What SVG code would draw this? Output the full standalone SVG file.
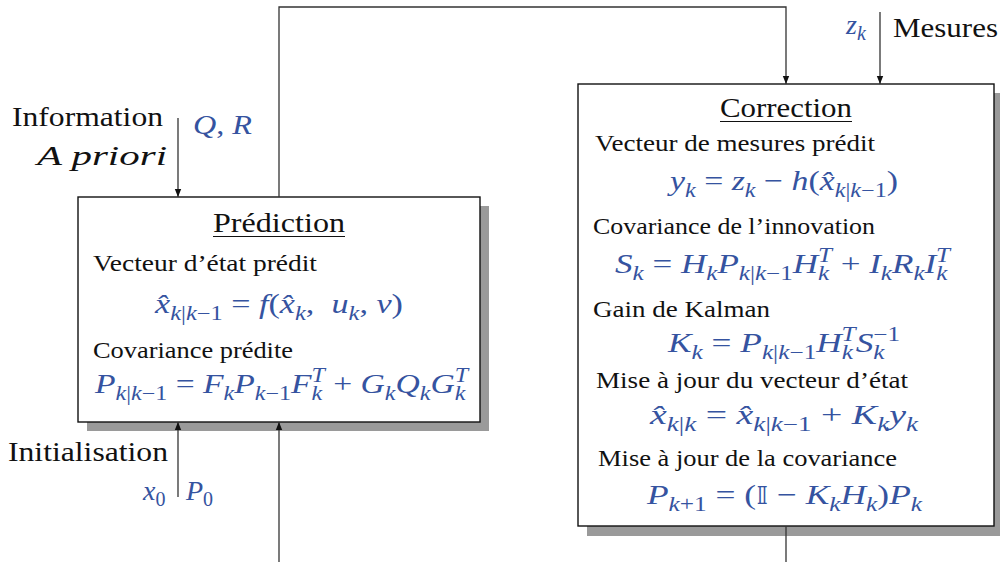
<svg xmlns="http://www.w3.org/2000/svg" width="1000" height="562" viewBox="0 0 1000 562">
<style>
.lbl{font-family:"Liberation Serif","DejaVu Serif",serif;font-size:28px;fill:#111}
.it{font-style:italic}
.in{font-family:"Liberation Serif","DejaVu Serif",serif;font-size:24px;fill:#111}
.ttl{font-family:"Liberation Serif","DejaVu Serif",serif;font-size:28px;fill:#111}
.m{font-family:"Liberation Serif","DejaVu Serif",serif;font-style:italic;font-size:28px;fill:#3553a0;white-space:pre}
.r{font-style:normal}
.b{font-size:20px}
.box{fill:#fff;stroke:#111;stroke-width:1.4}
.sh{fill:#9a9a9a}
.ln{fill:none;stroke:#333;stroke-width:1.3}
.ul{stroke:#111;stroke-width:1.2}
</style>
<defs>
<marker id="ah" viewBox="0 0 8 8" refX="8" refY="4" markerWidth="8" markerHeight="8" markerUnits="userSpaceOnUse" orient="auto">
<path d="M0,0.8 L8,4 L0,7.2 Z" fill="#111"/>
</marker>
</defs>

<g id="info">
<text class="lbl" x="12" y="126" textLength="151" lengthAdjust="spacingAndGlyphs">Information</text>
<text class="lbl it" x="37" y="165" textLength="130" lengthAdjust="spacingAndGlyphs">A priori</text>
<text class="m" x="193" y="134" textLength="59" lengthAdjust="spacingAndGlyphs">Q<tspan class="r">, </tspan>R</text>
</g>

<g id="init">
<text class="lbl" x="8" y="461" textLength="160" lengthAdjust="spacingAndGlyphs">Initialisation</text>
<text class="m" x="143" y="500">x<tspan class="b r" dy="6">0</tspan></text>
<text class="m" x="186" y="500">P<tspan class="b r" dy="6">0</tspan></text>
</g>

<g id="mesures">
<text class="m" x="846" y="34">z<tspan class="b" dy="6">k</tspan></text>
<text class="lbl" x="893" y="37" textLength="105" lengthAdjust="spacingAndGlyphs">Mesures</text>
</g>

<g id="prediction">
<rect class="sh" x="87" y="206" width="402" height="225"/>
<rect class="box" x="78" y="197" width="402" height="225"/>
<text class="ttl" x="213" y="232" textLength="132" lengthAdjust="spacingAndGlyphs">Prédiction</text>
<line class="ul" x1="213" y1="236.5" x2="345" y2="236.5"/>
<text class="in" x="93" y="271" textLength="224" lengthAdjust="spacingAndGlyphs">Vecteur d’état prédit</text>
<text class="m" x="155" y="313" textLength="248" lengthAdjust="spacingAndGlyphs">x̂<tspan class="b" dy="7">k<tspan class="r">|</tspan>k<tspan class="r">−1</tspan></tspan><tspan class="r" dy="-7"> = </tspan>f<tspan class="r">(</tspan>x̂<tspan class="b" dy="7">k</tspan><tspan class="r" dy="-7">,  </tspan>u<tspan class="b" dy="7">k</tspan><tspan class="r" dy="-7">, </tspan>v<tspan class="r">)</tspan></text>
<text class="in" x="93" y="358" textLength="200" lengthAdjust="spacingAndGlyphs">Covariance prédite</text>
<text class="m" x="95" y="393" textLength="373" lengthAdjust="spacingAndGlyphs">P<tspan class="b" dy="7">k<tspan class="r">|</tspan>k<tspan class="r">−1</tspan></tspan><tspan class="r" dy="-7"> = </tspan>F<tspan class="b" dy="7">k</tspan><tspan dy="-7">P</tspan><tspan class="b" dy="7">k<tspan class="r">−1</tspan></tspan><tspan dy="-7">F</tspan><tspan class="b" dy="7">k</tspan><tspan class="b" dx="-9" dy="-18">T</tspan><tspan class="r" dy="11"> + </tspan>G<tspan class="b" dy="7">k</tspan><tspan dy="-7">Q</tspan><tspan class="b" dy="7">k</tspan><tspan dy="-7">G</tspan><tspan class="b" dy="7">k</tspan><tspan class="b" dx="-9" dy="-18">T</tspan></text>
</g>

<g id="correction">
<rect class="sh" x="587" y="93" width="413" height="443"/>
<rect class="box" x="578" y="84" width="416" height="442"/>
<text class="ttl" x="720" y="117" textLength="132" lengthAdjust="spacingAndGlyphs">Correction</text>
<line class="ul" x1="720" y1="121.5" x2="852" y2="121.5"/>
<text class="in" x="595" y="151" textLength="280" lengthAdjust="spacingAndGlyphs">Vecteur de mesures prédit</text>
<text class="m" x="670" y="190" textLength="228" lengthAdjust="spacingAndGlyphs">y<tspan class="b" dy="7">k</tspan><tspan class="r" dy="-7"> = </tspan>z<tspan class="b" dy="7">k</tspan><tspan class="r" dy="-7"> − </tspan>h<tspan class="r">(</tspan>x̂<tspan class="b" dy="7">k<tspan class="r">|</tspan>k<tspan class="r">−1</tspan></tspan><tspan class="r" dy="-7">)</tspan></text>
<text class="in" x="593" y="234" textLength="282" lengthAdjust="spacingAndGlyphs">Covariance de l’innovation</text>
<text class="m" x="615" y="273" textLength="335" lengthAdjust="spacingAndGlyphs">S<tspan class="b" dy="7">k</tspan><tspan class="r" dy="-7"> = </tspan>H<tspan class="b" dy="7">k</tspan><tspan dy="-7">P</tspan><tspan class="b" dy="7">k<tspan class="r">|</tspan>k<tspan class="r">−1</tspan></tspan><tspan dy="-7">H</tspan><tspan class="b" dy="7">k</tspan><tspan class="b" dx="-9" dy="-18">T</tspan><tspan class="r" dy="11"> + </tspan>I<tspan class="b" dy="7">k</tspan><tspan dy="-7">R</tspan><tspan class="b" dy="7">k</tspan><tspan dy="-7">I</tspan><tspan class="b" dy="7">k</tspan><tspan class="b" dx="-9" dy="-18">T</tspan></text>
<text class="in" x="593" y="317" textLength="177" lengthAdjust="spacingAndGlyphs">Gain de Kalman</text>
<text class="m" x="668" y="352" textLength="232" lengthAdjust="spacingAndGlyphs">K<tspan class="b" dy="7">k</tspan><tspan class="r" dy="-7"> = </tspan>P<tspan class="b" dy="7">k<tspan class="r">|</tspan>k<tspan class="r">−1</tspan></tspan><tspan dy="-7">H</tspan><tspan class="b" dy="7">k</tspan><tspan class="b" dx="-9" dy="-18">T</tspan><tspan dy="11">S</tspan><tspan class="b" dy="7">k</tspan><tspan class="b r" dx="-9" dy="-18">−1</tspan></text>
<text class="in" x="596" y="388" textLength="312" lengthAdjust="spacingAndGlyphs">Mise à jour du vecteur d’état</text>
<text class="m" x="650" y="424" textLength="268" lengthAdjust="spacingAndGlyphs">x̂<tspan class="b" dy="7">k<tspan class="r">|</tspan>k</tspan><tspan class="r" dy="-7"> = </tspan>x̂<tspan class="b" dy="7">k<tspan class="r">|</tspan>k<tspan class="r">−1</tspan></tspan><tspan class="r" dy="-7"> + </tspan>K<tspan class="b" dy="7">k</tspan><tspan dy="-7">y</tspan><tspan class="b" dy="7">k</tspan></text>
<text class="in" x="598" y="466" textLength="299" lengthAdjust="spacingAndGlyphs">Mise à jour de la covariance</text>
<text class="m" x="647" y="504" textLength="275" lengthAdjust="spacingAndGlyphs">P<tspan class="b" dy="7">k<tspan class="r">+1</tspan></tspan><tspan class="r" dy="-7"> = (</tspan><tspan class="r" style="font-family:'DejaVu Sans',sans-serif;font-size:24px">𝕀</tspan><tspan class="r"> − </tspan>K<tspan class="b" dy="7">k</tspan><tspan dy="-7">H</tspan><tspan class="b" dy="7">k</tspan><tspan class="r" dy="-7">)</tspan>P<tspan class="b" dy="7">k</tspan></text>
</g>

<g id="connectors">
<path class="ln" d="M279,197 V7 H786 V84" marker-end="url(#ah)"/>
<path class="ln" d="M880,12 V84" marker-end="url(#ah)"/>
<path class="ln" d="M178,118 V197" marker-end="url(#ah)"/>
<path class="ln" d="M178,497 V422" marker-end="url(#ah)"/>
<path class="ln" d="M279,562 V422" marker-end="url(#ah)"/>
<path class="ln" d="M786,526 V562"/>
</g>
</svg>
